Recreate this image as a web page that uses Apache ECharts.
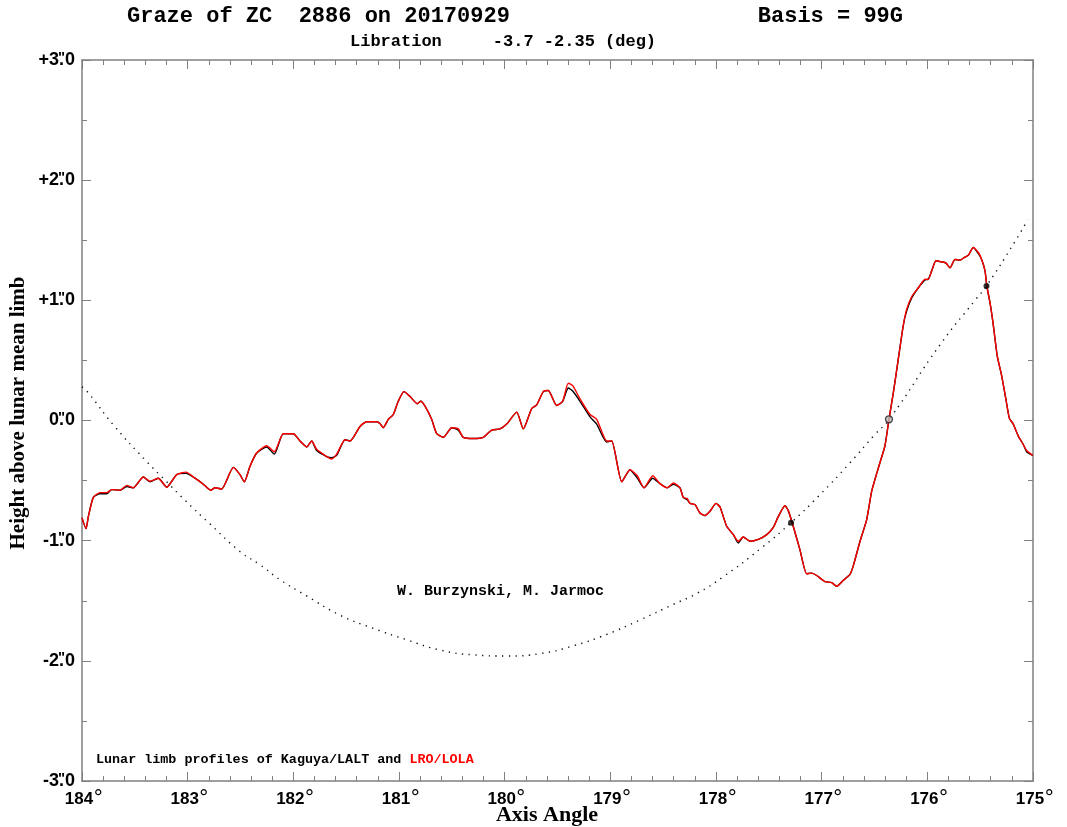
<!DOCTYPE html>
<html>
<head>
<meta charset="utf-8">
<script src="https://cdn.jsdelivr.net/npm/echarts@6/dist/echarts.min.js"></script>
<style>
html,body{margin:0;padding:0;background:#fff;}
#chart{width:1067px;height:827px;}
</style>
</head>
<body>
<div id="chart"></div>
<script>
// Axis angle (deg) of profile samples
const angles = [184.000,183.962,183.940,183.893,183.830,183.766,183.719,183.640,183.577,183.515,183.420,183.356,183.278,183.198,183.104,183.016,182.931,182.852,182.782,182.741,182.678,182.568,182.505,182.464,182.410,182.347,182.252,182.180,182.095,182.000,181.937,181.873,181.826,181.779,181.684,181.637,181.590,181.511,181.464,181.369,181.306,181.211,181.180,181.149,181.101,181.054,181.007,180.953,180.896,180.827,180.795,180.754,180.691,180.643,180.581,180.501,180.439,180.392,180.297,180.202,180.123,180.044,179.981,179.886,179.824,179.744,179.697,179.634,179.587,179.508,179.451,179.398,179.356,179.287,179.192,179.129,179.034,178.987,178.892,178.814,178.745,178.681,178.599,178.530,178.461,178.404,178.341,178.310,178.272,178.246,178.199,178.152,178.104,178.057,178.000,177.962,177.899,177.836,177.789,177.742,177.678,177.600,177.520,177.458,177.411,177.347,177.316,177.269,177.206,177.142,177.094,177.047,176.969,176.905,176.858,176.795,176.732,176.701,176.637,176.574,176.527,176.479,176.448,176.401,176.363,176.322,176.275,176.228,176.196,176.148,176.085,176.022,175.991,175.959,175.918,175.864,175.823,175.786,175.738,175.691,175.644,175.612,175.565,175.518,175.486,175.454,175.438,175.407,175.375,175.338,175.296,175.256,175.224,175.187,175.139,175.092,175.060,175.003];
// LRO/LOLA profile heights (arcsec)
const lolaHeights = [-0.81,-0.90,-0.80,-0.64,-0.60,-0.60,-0.575,-0.58,-0.54,-0.56,-0.47,-0.505,-0.48,-0.555,-0.45,-0.43,-0.48,-0.53,-0.58,-0.56,-0.57,-0.39,-0.45,-0.51,-0.38,-0.27,-0.21,-0.26,-0.11,-0.11,-0.17,-0.22,-0.17,-0.24,-0.30,-0.32,-0.28,-0.16,-0.17,-0.05,-0.01,-0.01,-0.025,-0.06,0.01,0.05,0.16,0.24,0.20,0.14,0.16,0.12,0.01,-0.11,-0.14,-0.06,-0.07,-0.14,-0.15,-0.14,-0.08,-0.07,-0.03,0.07,-0.07,0.10,0.13,0.24,0.25,0.125,0.16,0.31,0.29,0.18,0.05,0.01,-0.17,-0.17,-0.51,-0.41,-0.46,-0.56,-0.46,-0.525,-0.56,-0.52,-0.56,-0.64,-0.65,-0.69,-0.70,-0.77,-0.79,-0.755,-0.69,-0.72,-0.88,-0.95,-1.005,-0.97,-1.005,-0.99,-0.95,-0.89,-0.80,-0.71,-0.75,-0.88,-1.075,-1.275,-1.27,-1.29,-1.34,-1.35,-1.38,-1.33,-1.28,-1.21,-1.005,-0.825,-0.59,-0.44,-0.35,-0.21,0.01,0.23,0.51,0.79,0.925,1.03,1.105,1.175,1.175,1.245,1.33,1.32,1.31,1.27,1.34,1.335,1.36,1.375,1.44,1.40,1.34,1.245,1.125,0.98,0.79,0.535,0.37,0.175,0.02,-0.03,-0.13,-0.20,-0.25,-0.29];
// Kaguya/LALT profile heights (arcsec)
const kaguyaHeights = [-0.81,-0.90,-0.80,-0.64,-0.61,-0.61,-0.575,-0.58,-0.55,-0.56,-0.47,-0.51,-0.48,-0.555,-0.45,-0.44,-0.48,-0.53,-0.58,-0.56,-0.57,-0.39,-0.45,-0.51,-0.38,-0.27,-0.22,-0.28,-0.11,-0.11,-0.17,-0.22,-0.17,-0.25,-0.30,-0.31,-0.29,-0.16,-0.17,-0.05,-0.01,-0.01,-0.025,-0.06,0.01,0.05,0.16,0.24,0.20,0.14,0.16,0.12,0.01,-0.11,-0.14,-0.06,-0.08,-0.14,-0.15,-0.14,-0.08,-0.07,-0.03,0.07,-0.07,0.10,0.13,0.24,0.25,0.125,0.16,0.27,0.245,0.16,0.03,-0.03,-0.18,-0.17,-0.51,-0.41,-0.48,-0.56,-0.48,-0.525,-0.56,-0.53,-0.56,-0.64,-0.66,-0.69,-0.70,-0.77,-0.79,-0.755,-0.69,-0.72,-0.88,-0.95,-1.02,-0.97,-1.005,-0.99,-0.95,-0.89,-0.80,-0.71,-0.75,-0.88,-1.075,-1.275,-1.27,-1.29,-1.34,-1.35,-1.38,-1.33,-1.28,-1.21,-1.005,-0.825,-0.59,-0.44,-0.35,-0.21,0.01,0.23,0.51,0.79,0.91,1.02,1.105,1.17,1.175,1.245,1.33,1.32,1.31,1.27,1.34,1.335,1.36,1.375,1.44,1.39,1.34,1.245,1.125,0.98,0.79,0.535,0.37,0.175,0.02,-0.03,-0.13,-0.20,-0.26,-0.29];
// Star path relative to the limb (dotted)
const pathAngles = [184.00,183.94,183.70,183.39,183.21,183.03,182.79,182.505,182.316,182.126,181.873,181.558,181.243,180.927,180.612,180.297,179.981,179.666,179.350,179.034,178.719,178.404,178.183,177.93,177.57,177.29,177.03,176.73,176.50,176.36,175.88,175.54,175.44,175.17,175.05];
const pathHeights = [0.28,0.23,-0.04,-0.34,-0.50,-0.66,-0.86,-1.09,-1.20,-1.325,-1.46,-1.62,-1.73,-1.825,-1.91,-1.95,-1.96,-1.94,-1.875,-1.78,-1.66,-1.53,-1.44,-1.30,-1.06,-0.85,-0.63,-0.35,-0.12,0.01,0.63,1.01,1.12,1.49,1.67];
// Event points (contacts)
const eventAngles = [177.29, 176.363, 175.44];
const eventHeights = [-0.85, 0.01, 1.12];
const eventFilled = [true, false, true];
// Axis ticks
const xTickMin = 175, xTickMax = 184, xTickStep = 1;
const yTickMin = -3, yTickMax = 3, yTickStep = 1;

const zip = (a, b) => a.map((v, i) => [v, b[i]]);
const axisGray = '#808080';
const sansLabel = 'Liberation Sans';

function yLabel(v) {
  let s;
  if (v > 0) s = '+' + v; else if (v < 0) s = '-' + Math.abs(v); else s = '0';
  return '{n|' + s + '.}{q|"}{n|0}';
}

const chart = echarts.init(document.getElementById('chart'), null, {renderer: 'canvas'});
const baseX = {
  type: 'value', min: xTickMin, max: xTickMax, interval: xTickStep, inverse: true,
  axisLine: {show: true, onZero: false, lineStyle: {color: axisGray, width: 1.5}},
  axisTick: {show: true, inside: true, length: 9, lineStyle: {color: axisGray, width: 1}},
  minorTick: {show: true, splitNumber: 5, length: 5, lineStyle: {color: axisGray, width: 1}},
  splitLine: {show: false}, minorSplitLine: {show: false}
};
const baseY = {
  type: 'value', min: yTickMin, max: yTickMax, interval: yTickStep,
  axisLine: {show: true, onZero: false, lineStyle: {color: axisGray, width: 1.5}},
  axisTick: {show: true, inside: true, length: 9, lineStyle: {color: axisGray, width: 1}},
  minorTick: {show: true, splitNumber: 2, length: 5, lineStyle: {color: axisGray, width: 1}},
  splitLine: {show: false}, minorSplitLine: {show: false}
};

chart.setOption({
  animation: false,
  backgroundColor: '#fff',
  grid: {left: 82, right: 34, top: 60, bottom: 46, containLabel: false},
  xAxis: [
    Object.assign({}, baseX, {
      position: 'bottom',
      axisLabel: {show: true, margin: 9, padding: [0, 0, 0, 4],
        formatter: v => '{n|' + v + '}{d|°}',
        rich: {
          n: {color: '#000', fontFamily: sansLabel, fontWeight: 'bold', fontSize: 17, lineHeight: 18},
          d: {color: '#000', fontFamily: 'DejaVu Sans', fontWeight: 'normal', fontSize: 20, lineHeight: 18}
        }}
    }),
    Object.assign({}, baseX, {position: 'top', axisLabel: {show: false}})
  ],
  yAxis: [
    Object.assign({}, baseY, {
      position: 'left',
      axisLabel: {show: true, margin: 7, formatter: yLabel,
        rich: {
          n: {color: '#000', fontFamily: sansLabel, fontWeight: 'bold', fontSize: 18, lineHeight: 20},
          q: {color: '#000', fontFamily: sansLabel, fontWeight: 'bold', fontSize: 15, lineHeight: 20, width: 1, align: 'right', verticalAlign: 'top'}
        }}
    }),
    Object.assign({}, baseY, {position: 'right', axisLabel: {show: false}})
  ],
  series: [
    {
      name: 'path', type: 'line', data: zip(pathAngles, pathHeights), showSymbol: false, symbol: 'none',
      smooth: true, z: 1,
      lineStyle: {color: '#111', width: 1.4, type: [1.3, 5.4]}
    },
    {
      name: 'Kaguya/LALT', type: 'line', data: zip(angles, kaguyaHeights), symbol: 'none', smooth: 0.2, z: 2,
      lineStyle: {color: '#000', width: 1.4}
    },
    {
      name: 'LRO/LOLA', type: 'line', data: zip(angles, lolaHeights), symbol: 'none', smooth: 0.2, z: 3,
      lineStyle: {color: '#ff0000', width: 1.4}
    },
    {
      name: 'events', type: 'scatter', z: 10, zlevel: 1,
      data: eventAngles.map((a, i) => ({
        value: [a, eventHeights[i]],
        symbol: 'circle',
        symbolSize: eventFilled[i] ? 6 : 7,
        itemStyle: eventFilled[i] ? {color: '#000'} : {color: '#bbb', borderColor: '#222', borderWidth: 1.3}
      }))
    }
  ],
  graphic: [
    {type: 'text', x: 127, y: 16, style: {text: 'Graze of ZC  2886 on 20170929', font: 'bold 22px "Liberation Mono"', fill: '#000', textAlign: 'left', textVerticalAlign: 'middle'}},
    {type: 'text', x: 903, y: 16, style: {text: 'Basis = 99G', font: 'bold 22px "Liberation Mono"', fill: '#000', textAlign: 'right', textVerticalAlign: 'middle'}},
    {type: 'text', x: 350, y: 42, style: {text: 'Libration     -3.7 -2.35 (deg)', font: 'bold 17px "Liberation Mono"', fill: '#000', textAlign: 'left', textVerticalAlign: 'middle'}},
    {type: 'text', x: 397, y: 591, style: {text: 'W. Burzynski, M. Jarmoc', font: 'bold 15px "Liberation Mono"', fill: '#000', textAlign: 'left', textVerticalAlign: 'middle'}},
    {type: 'text', x: 96, y: 760, style: {
      text: '{k|Lunar limb profiles of Kaguya/LALT and }{r|LRO/LOLA}',
      textAlign: 'left', textVerticalAlign: 'middle',
      rich: {
        k: {fill: '#000', font: 'bold 13.4px "Liberation Mono"'},
        r: {fill: '#ff0000', font: 'bold 13.4px "Liberation Mono"'}
      }}},
    {type: 'text', x: 547, y: 815, style: {text: 'Axis Angle', font: 'bold 22px "Liberation Serif"', fill: '#000', textAlign: 'center', textVerticalAlign: 'middle'}},
    {type: 'text', x: 19, y: 413, rotation: Math.PI / 2, style: {text: 'Height above lunar mean limb', font: 'bold 21px "Liberation Serif"', fill: '#000', textAlign: 'center', textVerticalAlign: 'middle'}}
  ]
});
</script>
</body>
</html>
